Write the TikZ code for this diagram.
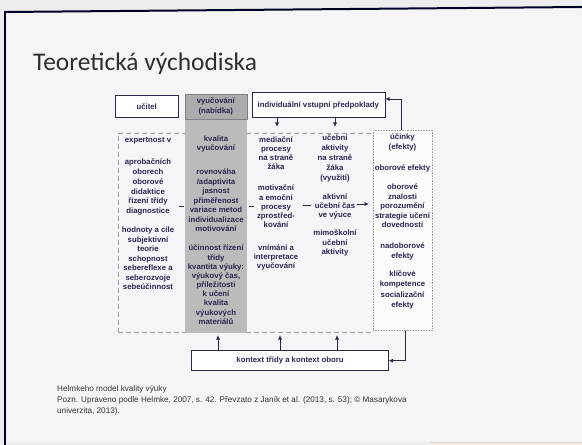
\documentclass[tikz,border=0pt]{standalone}
\usepackage{fontspec}
\setmainfont{Liberation Sans}
\newfontfamily\titlefont{Carlito}
\usetikzlibrary{arrows.meta}
\definecolor{ink}{HTML}{2B2450}
\definecolor{lineink}{HTML}{2A2845}
\definecolor{slidebg}{HTML}{F5F5F8}
\definecolor{outerbg}{HTML}{EDEDEF}
\definecolor{colgray}{HTML}{BBBBBB}
\definecolor{framegray}{HTML}{A0A0A6}
\definecolor{titlegray}{HTML}{2E2E33}
\definecolor{capgray}{HTML}{333338}
\tikzset{
  bs/.style={font=\fontsize{7.8}{#1}\selectfont\bfseries},
  coltext/.style={bs=9.6, text=ink, align=center, inner sep=0pt, anchor=north},
  headbox/.style={draw=lineink, line width=0.6bp, fill=white, bs=10, text=ink, align=center, inner sep=0pt},
  conn/.style={draw=lineink, line width=0.8bp},
  arr/.style={conn, -{Latex[length=4.5bp,width=4bp]}},
}
\begin{document}
\begin{tikzpicture}[x=1bp,y=-1bp]
\useasboundingbox (0,0) rectangle (582,445);
% slide background
\fill[outerbg] (0,0) rectangle (582,445);
\fill[slidebg] (5,12) -- (582,7) -- (582,442) -- (5,442) -- cycle;
\draw[line width=2bp, draw=black!85!blue] (5,12) -- (582,7);
\draw[line width=2bp, draw=black!85!blue] (5,11) -- (5,445);
\draw[line width=1bp, draw=brown!40!white] (430,442) -- (582,442);

% title
\node[anchor=base west, font=\titlefont\fontsize{25.5}{30}\selectfont, text=titlegray, inner sep=0pt] (title) at (33,71) {Teoretická východiska};

% main dashed frame and effects box
\node[draw=framegray, line width=0.6bp, dash pattern=on 5bp off 3bp, minimum width=255bp, minimum height=199bp, inner sep=0pt, anchor=north west] (frame) at (118,133) {};
\node[fill=colgray, minimum width=62bp, minimum height=214bp, inner sep=0pt, anchor=north] (colbg) at (216,119) {};
\node[draw=framegray, line width=0.6bp, densely dotted, fill=white!60!slidebg, minimum width=59bp, minimum height=200bp, inner sep=0pt, anchor=north west] (eff) at (373,130) {};

% header boxes
\node[headbox, minimum width=63bp, minimum height=22bp] (ucitel) at (146.7,106.2) {učitel};
\node[headbox, fill=colgray!92!black, draw=gray, minimum width=62bp, minimum height=25bp] (vyuc) at (215.8,106.5) {vyučování\\(nabídka)};
\node[headbox, minimum width=133bp, minimum height=24.5bp] (ind) at (318.3,105) {individuální vstupní předpoklady};
\node[headbox, minimum width=196.5bp, minimum height=20bp] (kontext) at (290,360.7) {kontext třídy a kontext oboru};

% column 1
\node[coltext] (c1a) at (148,136) {\strut expertnost v};
\node[coltext, bs=9.8] (c1b) at (148,157.7) {\strut aprobačních\\oborech\\oborové\\didaktice\\řízení třídy\\diagnostice};
\node[coltext, bs=9.5] (c1c) at (148,226) {\strut hodnoty a cíle\\subjektivní\\teorie\\schopnost\\sebereflexe a\\seberozvoje\\sebeúčinnost};

% column 2
\node[coltext] (c2a) at (216,134.4) {\strut kvalita\\vyučování};
\node[coltext, bs=9.6] (c2b) at (216,167.7) {\strut rovnováha\\/adaptivita\\jasnost\\přiměřenost\\variace metod\\individualizace\\motivování};
\node[coltext, bs=9.2] (c2c) at (216,244.3) {\strut účinnost řízení\\třídy\\kvantita výuky:\\výukový čas,\\příležitosti\\k učení\\kvalita\\výukových\\materiálů};

% column 3
\node[coltext, bs=9.1] (c3a) at (276,136) {\strut mediační\\procesy\\na straně\\žáka};
\node[coltext, bs=9.2] (c3b) at (276,184.3) {\strut motivační\\a emoční\\procesy\\zprostřed-\\kování};
\node[coltext, bs=9.0] (c3c) at (276,244.3) {\strut vnímání a\\interpretace\\vyučování};

% column 4
\node[coltext, bs=10.2] (c4a) at (335,132.7) {\strut učební\\aktivity\\na straně\\žáka\\(využití)};
\node[coltext, bs=9.2] (c4b) at (335,192.7) {\strut aktivní\\učební čas\\ve výuce};
\node[coltext, bs=9.2] (c4c) at (335,229.3) {\strut mimoškolní\\učební\\aktivity};

% column 5 (effects)
\node[coltext, bs=10] (c5a) at (402.5,132.7) {\strut účinky\\(efekty)};
\node[coltext] (c5b) at (402.5,163.3) {\strut oborové efekty};
\node[coltext, bs=9.6] (c5c) at (402.5,182.7) {\strut oborové\\znalosti\\porozumění\\strategie učení\\dovednosti};
\node[coltext, bs=10] (c5d) at (402.5,241) {\strut nadoborové\\efekty};
\node[coltext, bs=10.5] (c5e) at (402.5,268.7) {\strut klíčové\\kompetence\\socializační\\efekty};

% short connectors between columns
\coordinate (h1a) at (179,206); \coordinate (h1b) at (184,206);
\coordinate (h2a) at (249,206); \coordinate (h2b) at (254,206);
\coordinate (h3a) at (302.5,205); \coordinate (h3b) at (310.5,205);
\coordinate (h4a) at (357,204); \coordinate (h4b) at (369,204);
\draw[conn] (h1a) -- (h1b);
\draw[conn] (h2a) -- (h2b);
\draw[conn] (h3a) -- (h3b);
\draw[arr] (h4a) -- (h4b);

% arrows from individual prerequisites
\coordinate (t3) at (277,127);
\coordinate (t4) at (335,127);
\draw[arr] (ind.south -| t3) -- (t3);
\draw[arr] (ind.south -| t4) -- (t4);

% arrows from context
\coordinate (u1) at (218,335);
\coordinate (u2) at (280,335);
\coordinate (u3) at (337,335);
\draw[arr] (kontext.north -| u1) -- (u1);
\draw[arr] (kontext.north -| u2) -- (u2);
\draw[arr] (kontext.north -| u3) -- (u3);

% feedback loops
\draw[arr] ([xshift=-1.5bp]eff.north) |- ([yshift=6bp]ind.east);
\draw[arr] ([xshift=2.5bp]eff.south) |- (kontext.east);

% caption
\node[anchor=north west, align=left, font=\fontsize{8.2}{11}\selectfont, text=capgray, inner sep=0pt] (cap) at (57,383.3) {\strut Helmkeho model kvality výuky\\Pozn. Upraveno podle Helmke, 2007, s. 42. Převzato z Janík et al. (2013, s. 53); © Masarykova\\univerzita, 2013).};
\end{tikzpicture}
\end{document}
